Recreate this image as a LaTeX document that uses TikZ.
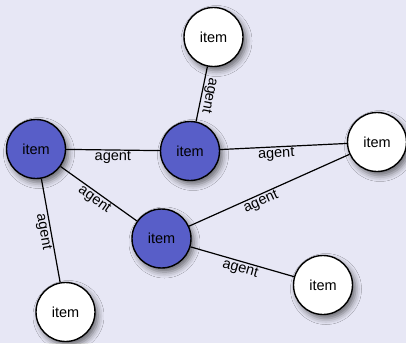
\documentclass[tikz,border=0pt]{standalone}
\usepackage{fontspec}
\setmainfont{Liberation Sans}
\usetikzlibrary{shadows.blur}
\definecolor{paper}{RGB}{231,231,245}
\definecolor{itemblue}{RGB}{88,94,200}
\tikzset{
  item/.style={circle, draw=black, line width=1.4pt, minimum size=59pt, inner sep=0pt,
    font=\fontsize{14.5}{16}\selectfont,
    blur shadow={shadow xshift=3pt, shadow yshift=-4pt, shadow blur radius=6pt, shadow opacity=55}},
  hub/.style={item, fill=itemblue},
  leaf/.style={item, fill=white},
  link/.style={draw=black, line width=1.2pt},
  role/.style={sloped, inner sep=0.8pt, font=\fontsize{14.5}{16}\selectfont}
}
\begin{document}
\begin{tikzpicture}[x=1pt, y=-1pt]
  \fill[paper] (0,0) rectangle (406,343);
  \useasboundingbox (0,0) rectangle (406,343);

  % items
  \node[hub]  (a) at (36,149)    {item};
  \node[hub]  (b) at (190,151)   {item};
  \node[leaf] (c) at (213.5,37)  {item};
  \node[leaf] (d) at (377,142)   {item};
  \node[hub]  (e) at (161.5,238.5) {item};
  \node[leaf] (f) at (65.5,312)  {item};
  \node[leaf] (g) at (323,285)   {item};

  % agent links
  \draw[link] (a) -- node[role, below] {agent} (b);
  \draw[link] (c) -- node[role, allow upside down, above] {agent} (b);
  \draw[link] (a) -- node[role, below] {agent} (e);
  \draw[link] (a) -- node[role, below] {agent} (f);
  \draw[link] (b) -- node[role, below, pos=0.44] {agent} (d);
  \draw[link] (e) -- node[role, below, pos=0.43] {agent} (d);
  \draw[link] (e) -- node[role, below] {agent} (g);
\end{tikzpicture}
\end{document}
